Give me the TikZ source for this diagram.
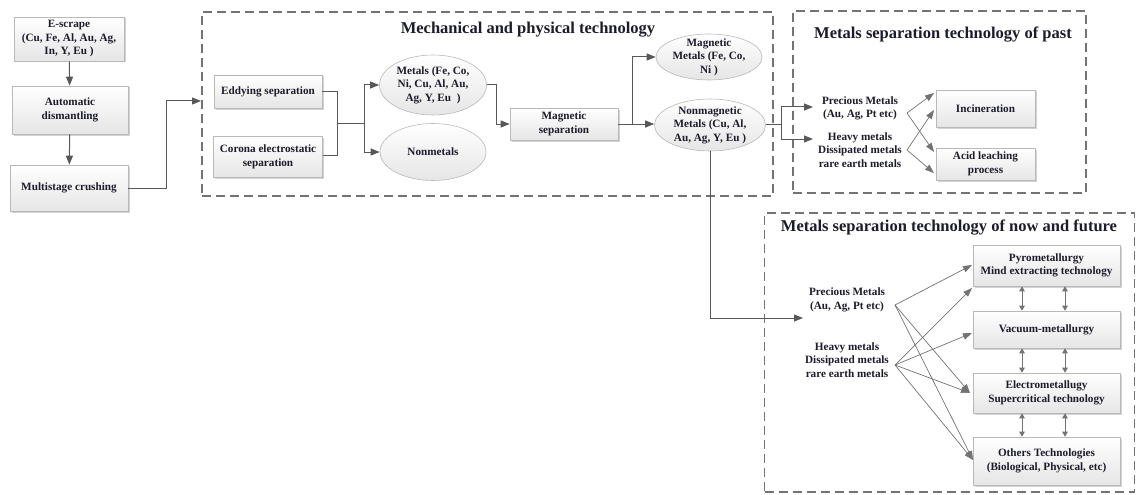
\documentclass[tikz,border=0pt]{standalone}
\usepackage{fontspec}
\setmainfont{Liberation Serif}
\usetikzlibrary{arrows.meta,shadows,shapes.geometric,calc}

\definecolor{ink}{RGB}{28,28,44}
\definecolor{wire}{RGB}{88,88,88}
\definecolor{thinwire}{RGB}{115,115,115}
\definecolor{frame}{RGB}{115,115,115}

\begin{document}
\begin{tikzpicture}[x=1pt,y=-1pt,
  font=\bfseries\fontsize{11.2}{13.5}\selectfont,
  procbox/.style={rectangle, draw=gray!55, line width=0.6pt,
    top color=white, bottom color=gray!20,
    drop shadow={shadow xshift=1.5pt,shadow yshift=-1.5pt,opacity=.35,fill=gray},
    align=center, inner sep=1pt, text=ink},
  oval/.style={ellipse, draw=gray!55, line width=0.6pt,
    top color=white, bottom color=gray!20, inner sep=0pt},
  ovaltext/.style={align=center, text=ink, inner sep=0pt},
  plain/.style={align=center, text=ink, inner sep=0pt},
  title/.style={text=ink, font=\bfseries\fontsize{16.5}{19}\selectfont, inner sep=0pt},
  zone/.style={rectangle, draw=frame, line width=1.2pt, dash pattern=on 9pt off 5pt},
  link/.style={draw=wire, line width=1pt},
  flow/.style={draw=wire, line width=1pt, -{Triangle[length=9pt,width=7pt]}},
  fan/.style={draw=thinwire, line width=0.7pt, -{Triangle[length=9pt,width=6.5pt]}},
  swap/.style={draw=thinwire, line width=0.9pt,
    {Triangle[length=5pt,width=5.5pt]}-{Triangle[length=5pt,width=5.5pt]}}
]
\useasboundingbox (0,0) rectangle (1136,495);
\fill[white] (0,0) rectangle (1136,495);

% ---- dashed zones and their headings
\node[zone, minimum width=571, minimum height=184] (mech) at (487.5,104) {};
\node[zone, minimum width=293, minimum height=182] (past) at (939.5,102) {};
\node[zone, minimum width=370, minimum height=279] (now) at (949.5,352.5) {};

\node[title] (mechtitle) at (528,30) {Mechanical and physical technology};
\node[title] (pasttitle) at (943,35) {Metals separation technology of past};
\node[title] (nowtitle) at (949,228) {Metals separation technology of now and future};

% ---- pre-treatment column
\node[procbox, minimum width=110, minimum height=44] (escrape) at (69,39)
  {E-scrape\\(Cu, Fe, Al, Au, Ag,\\In, Y, Eu )};
\node[procbox, minimum width=116, minimum height=48] (dism) at (70,110)
  {Automatic\\dismantling};
\node[procbox, minimum width=118, minimum height=46] (crush) at (69,188)
  {Multistage crushing};

\draw[flow] (escrape) -- (dism);
\draw[flow] (dism) -- (crush);
\coordinate (mechin) at (201,101);
\draw[flow] (crush.east) -- ++(38,0) |- (mechin);

% ---- mechanical and physical separation
\node[procbox, minimum width=108, minimum height=33] (eddy) at (268,91.5)
  {Eddying separation};
\node[procbox, minimum width=109, minimum height=41] (corona) at (268,157)
  {Corona electrostatic\\separation};

\node[oval, minimum width=107, minimum height=60] (metals) at (433,85) {};
\node[ovaltext] (metalstxt) at (metals.center) {Metals (Fe, Co,\\Ni, Cu, Al, Au,\\Ag, Y, Eu\ \ )};
\node[oval, minimum width=106, minimum height=57] (nonmetals) at (433,152) {};
\node[ovaltext] (nonmetalstxt) at (nonmetals.center) {Nonmetals};

\coordinate (j1) at (337,123);
\coordinate (j2) at (364,123);
\draw[link] (eddy.east) -| (j1);
\draw[link] ([yshift=2pt]corona.east) -| (j1);
\draw[link] (j1) -- (j2);
\draw[flow] (j2) |- (metals.west);
\draw[flow] (j2) |- (nonmetals.west);

\node[procbox, minimum width=108, minimum height=32] (magsep) at (564,124)
  {Magnetic\\separation};
\draw[flow] (metals.east) -- ++(9.5,0) |- (magsep.west);

\node[oval, minimum width=106, minimum height=46] (magmet) at (709,57) {};
\node[ovaltext] (magmettxt) at (magmet.center) {Magnetic\\Metals (Fe, Co,\\Ni )};
\node[oval, minimum width=111, minimum height=52] (nonmag) at (710,125) {};
\node[ovaltext] (nonmagtxt) at (nonmag.center) {Nonmagnetic\\Metals (Cu, Al,\\Au, Ag, Y, Eu )};

\coordinate (j4) at (632,124);
\draw[link] (magsep.east) -- (j4);
\draw[flow] (j4) |- (magmet.west);
\draw[flow] (j4) -- (nonmag.west |- j4);

% ---- separation of the past
\node[plain] (pprec) at (860,108.5) {Precious Metals\\(Au, Ag, Pt etc)};
\node[plain] (pheavy) at (860,150) {Heavy metals\\Dissipated metals\\rare earth metals};
\node[procbox, minimum width=99, minimum height=37] (incin) at (985.5,108.5) {Incineration};
\node[procbox, minimum width=99, minimum height=32] (acid) at (985.5,164) {Acid leaching\\process};

\coordinate (j5) at (781,124);
\coordinate (pprecin) at (813,107);
\coordinate (pheavyin) at (813,139);
\draw[link] (nonmag.east |- j5) -- (j5);
\draw[flow] (j5) |- (pprecin);
\draw[flow] (j5) |- (pheavyin);

\coordinate (ppsrc) at (907,113);
\coordinate (phsrc) at (907,150);
\coordinate (incinA) at (934,93);
\coordinate (incinB) at (934,110);
\coordinate (acidA) at (934,152);
\coordinate (acidB) at (934,173);
\draw[fan] (ppsrc) -- (incinA);
\draw[fan] (ppsrc) -- (acidA);
\draw[fan] (phsrc) -- (incinB);
\draw[fan] (phsrc) -- (acidB);

% ---- separation of now and future
\node[plain] (nprec) at (847,300) {Precious Metals\\(Au, Ag, Pt etc)};
\node[plain] (nheavy) at (847,360) {Heavy metals\\Dissipated metals\\rare earth metals};

\coordinate (nprecin) at (803,318);
\draw[flow] (nonmag.south) |- (nprecin);

\node[procbox, minimum width=147, minimum height=41] (pyro) at (1046.5,265.5)
  {Pyrometallurgy\\Mind extracting technology};
\node[procbox, minimum width=147, minimum height=37] (vac) at (1046.5,329.5)
  {Vacuum-metallurgy};
\node[procbox, minimum width=147, minimum height=40] (electro) at (1046.5,393)
  {Electrometallugy\\Supercritical technology};
\node[procbox, minimum width=147, minimum height=48] (others) at (1046.5,461)
  {Others Technologies\\(Biological, Physical, etc)};

\foreach \up/\dn in {pyro/vac, vac/electro, electro/others} {
  \draw[swap] ([xshift=-24.5pt]\up.south) -- ([xshift=-24.5pt]\dn.north);
  \draw[swap] ([xshift=18.5pt]\up.south) -- ([xshift=18.5pt]\dn.north);
}

\coordinate (npsrc) at (895,305);
\coordinate (nhsrc) at (895,365);
\coordinate (pyroA) at (972,265);
\coordinate (pyroB) at (972,288);
\coordinate (vacA) at (972,333);
\coordinate (elecA) at (970,393);
\coordinate (othA) at (973,460);
\draw[fan] (npsrc) -- (pyroA);
\draw[fan] (npsrc) -- (elecA);
\draw[fan] (npsrc) -- (othA);
\draw[fan] (nhsrc) -- (pyroB);
\draw[fan] (nhsrc) -- (vacA);
\draw[fan] (nhsrc) -- (elecA);
\draw[fan] (nhsrc) -- (othA);
\end{tikzpicture}
\end{document}
